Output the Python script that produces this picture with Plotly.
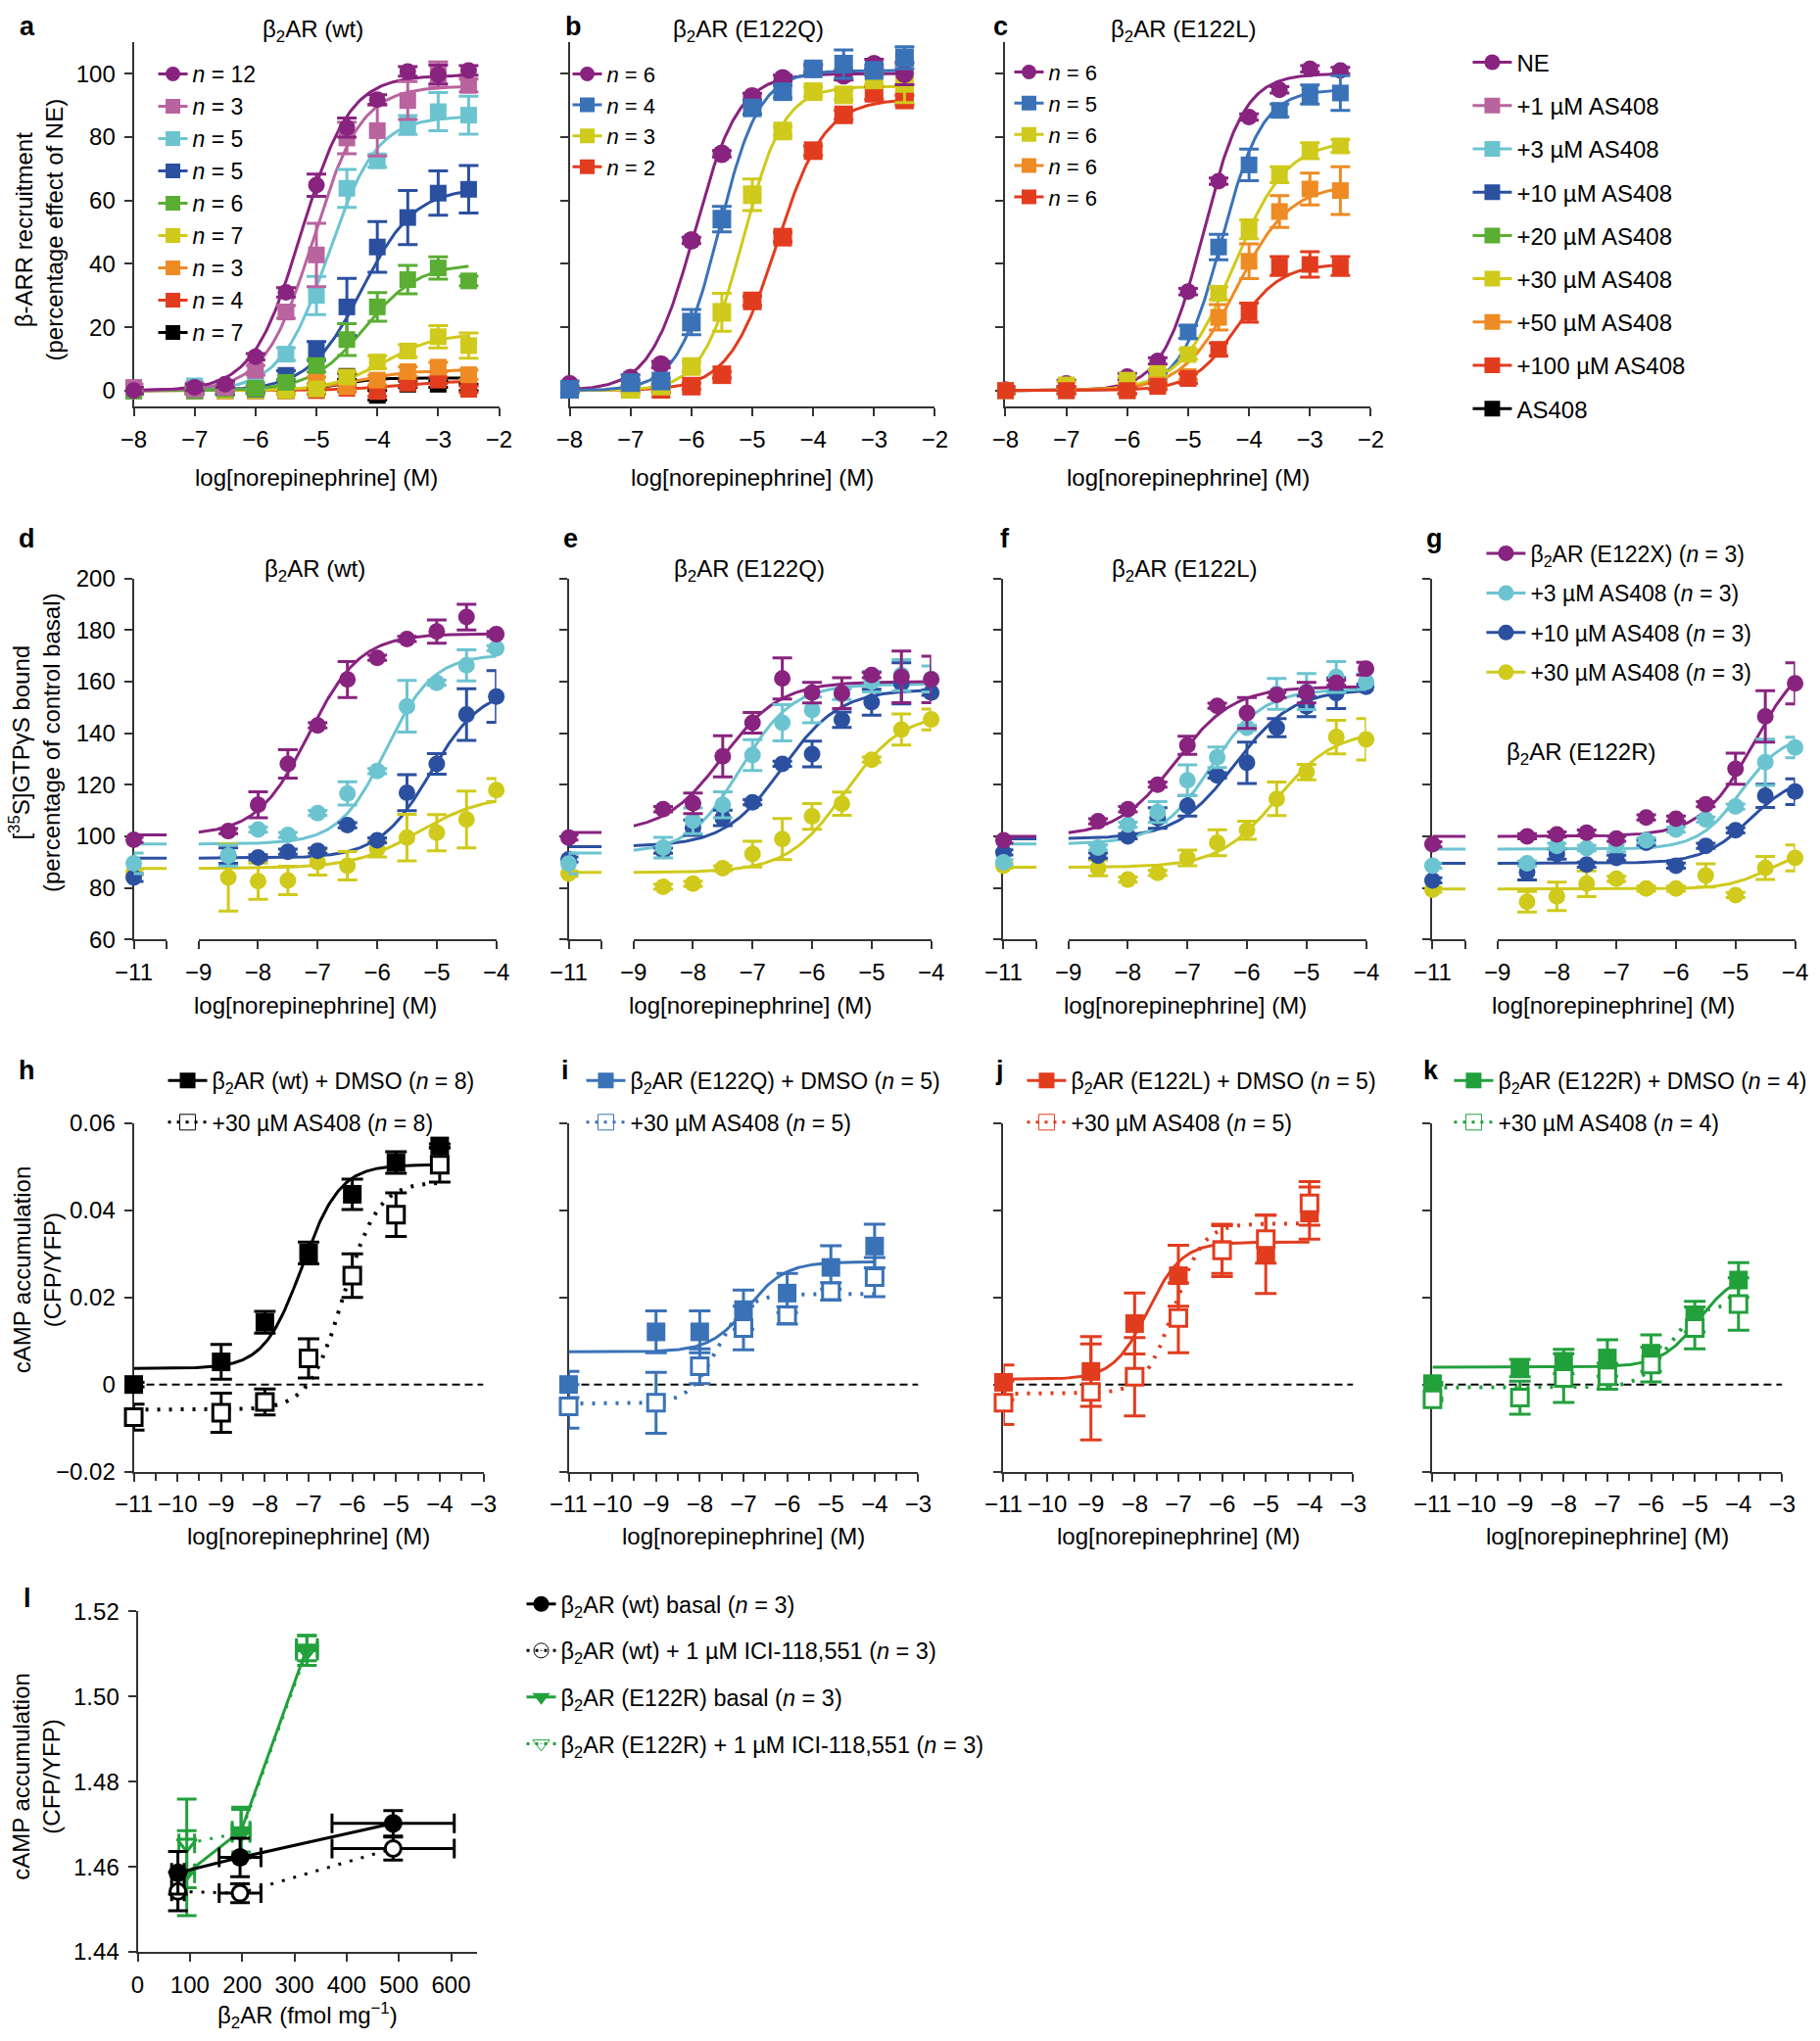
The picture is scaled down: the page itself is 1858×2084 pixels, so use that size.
import numpy as np
import plotly.graph_objects as go

# %% Canvas
W, H = 1858, 2084
FONT = "Liberation Sans, Arial, Helvetica, sans-serif"
AX = "#333333"

PURPLE = "#88237f"
PINK = "#b9639f"
CYAN = "#6cc4d0"
NAVY = "#2b50a0"
BLUE = "#3a72b8"
GREEN = "#5aae33"
YELLOW = "#cfca1b"
ORANGE = "#ee8b24"
RED = "#e23c1f"
BLACK = "#000000"
KGREEN = "#22a03c"

# %% Data a-c (beta-arrestin recruitment, % of NE)
x_ab = [-8, -7, -6.5, -6, -5.5, -5, -4.5, -4, -3.5, -3, -2.5]
x_c = [-8, -7, -6, -5.5, -5, -4.5, -4, -3.5, -3, -2.5]

a_ne = [0, 1, 2, 10.7, 31, 64.8, 83, 91.8, 100.7, 99.7, 101]
a_ne_err = [1, 1, 1, 1, 1.5, 3.5, 3, 1.5, 1.5, 3, 1.5]
a_1 = [1, 0.5, 1, 6.4, 24.8, 42.8, 79.7, 82, 91.5, 99.7, 96.3]
a_1_err = [1, 1, 1, 1.5, 2, 10, 5, 8, 6, 4, 2]
a_3 = [0, 1.5, 1, 1.5, 11.5, 30, 63.8, 72.5, 83.8, 88, 86.9]
a_3_err = [1, 1, 1, 1, 2, 6, 6, 2, 3, 6, 6]
a_10 = [0, 0, 0.7, 0.5, 4.8, 12.5, 26.4, 45.3, 54.6, 62.3, 63.5]
a_10_err = [1, 1, 2, 1, 1.5, 3, 9, 8, 8.5, 7, 7.5]
a_20 = [0, 0, 0.5, 0.7, 2.6, 7.9, 16.1, 26.4, 35, 38.7, 34.6]
a_20_err = [1, 1, 1, 1, 1, 2, 5, 4.5, 4.5, 3.5, 1.5]
a_30 = [0, 0, 0, 0, 0, 0.5, 4.3, 9, 12.5, 17, 14.2]
a_30_err = [1, 1, 1, 1, 1, 1, 1.5, 2, 2, 3.5, 4]
a_50 = [0, 0, 0, 0, 0, 3.3, 1.2, 3.3, 6, 7.4, 5]
a_50_err = [1, 1, 1, 1, 1, 1, 1, 1.5, 1.5, 1.5, 1.5]
a_100 = [0, 0, 0, 0, 0, 0, 0.7, -0.3, 2.3, 3.3, 0.4]
a_100_err = [1, 1, 1, 1, 1, 1, 1, 1.5, 1, 1, 1]
a_as = [0, 0, 0, 0, 0, 0.5, 4.5, -1.5, 2, 2, 1]
a_as_err = [1, 1, 1, 1, 1, 1, 1, 1.5, 1, 1, 1]

b_ne = [2, 4, 8.2, 47.4, 74.7, 92.8, 98.5, 101.5, 99.5, 103, 100]
b_ne_err = [1, 1, 1, 1, 1, 1, 1, 1, 1.5, 1.5, 3.5]
b_q = [0.4, 2.5, 3, 21.6, 54.1, 89.2, 94.3, 101.5, 103, 101, 105]
b_q_err = [1, 1, 1, 4, 4, 2, 2, 1.5, 4.5, 1.5, 3.5]
b_30 = [0.4, 0.4, 1.4, 7.6, 24.7, 61.8, 81.9, 94.3, 93.3, 98, 96.9]
b_30_err = [1, 1, 1, 1.5, 6, 5, 1.5, 1.5, 1.5, 1.5, 6]
b_100 = [0.4, 0.4, 0.4, 1.4, 5, 28.3, 48.4, 75.7, 87, 93.8, 91.7]
b_100_err = [1, 1, 1, 1, 1, 1.5, 1.5, 1.5, 1.5, 2, 1.5]

c_ne = [0.3, 2.3, 4.4, 9.4, 31.2, 66.1, 86.3, 94.9, 101.5, 101]
c_ne_err = [1, 1, 1, 1, 1, 1, 1, 1, 1, 1]
c_10 = [0, 0, 0, 4.4, 18.5, 45.3, 71.2, 88.4, 93.4, 93.9]
c_10_err = [1, 1, 1, 1, 2, 4, 5, 2, 3, 5.5]
c_30 = [0, 1.8, 3.3, 5.4, 11.4, 30.7, 50.9, 68.1, 75.7, 77.2]
c_30_err = [1, 1, 1, 1, 1.5, 2, 3, 2.5, 2.5, 2]
c_50 = [0, 0, 0, 1.8, 4.4, 23.1, 40.8, 56.5, 63.6, 63.1]
c_50_err = [1, 1, 1, 1, 1, 4, 5.5, 5, 5, 7.5]
c_100 = [0, 0, 0, 1.3, 3.8, 13, 24.6, 39.3, 39.8, 39.3]
c_100_err = [1, 1, 1, 1, 1.5, 2, 3, 3, 4, 3]

# fitted curves: [bottom, top, logEC50, hill]
fit_a = {"ne": [0, 99.5, -5.25, 1.1], "1": [0, 96, -5.05, 1.1], "3": [0, 86.5, -4.8, 1.1],
         "10": [0, 64, -4.25, 1.0], "20": [0, 40, -4.2, 1.0], "30": [0, 18, -3.9, 1.0],
         "50": [0, 6.5, -4.3, 1.0], "100": [0, 3, -3.8, 1.0], "as": [0, 4, -4.6, 1.5]}
fit_b = {"ne": [0, 100, -5.95, 1.2], "q": [0, 101, -5.55, 1.3],
         "30": [0, 96, -5.15, 1.3], "100": [0, 92, -4.6, 1.1]}
fit_c = {"ne": [0, 100, -4.75, 1.3], "10": [0, 95, -4.45, 1.3], "30": [0, 79, -4.25, 1.0],
         "50": [0, 65, -4.2, 1.0], "100": [0, 40, -4.2, 1.2]}

# %% Data d-g ([35S]GTPgS binding)
x_g = [-8.5, -8, -7.5, -7, -6.5, -6, -5.5, -5, -4.5, -4]
# order of series in each panel: NE, +3, +10, +30 uM AS408
d_vals = [[102, 112.2, 128.1, 143, 160.8, 169.2, 176.5, 179.4, 185, 178.4],
          [92.5, 102.6, 100.5, 109, 116.6, 125.3, 150.4, 159.5, 166.3, 172.9],
          [92.5, 91.8, 94, 94.4, 104.3, 98.4, 116.9, 128.1, 147.2, 154.2],
          [84, 82.6, 82.9, 90, 88.6, 95, 99.5, 101.4, 106.5, 117.9]]
d_errs = [[1, 5, 5.5, 1, 7, 1, 1, 4.5, 5, 1],
          [4, 1, 1, 1, 4.5, 1, 10, 1, 6, 1],
          [3, 1, 1, 1, 1, 1, 7, 4, 10, 10],
          [13, 7, 5.5, 5, 5.5, 3, 9, 7, 11, 4.5]]
d_basal = [98.6, 89.5, 84, 86]
d_basal_err = [1, 4, 1.5, 1]
d_fit = [[100.5, 178.5, -7.15, 1.0], [97, 170.5, -5.85, 1.1],
         [91.5, 158, -5.1, 1.0], [87.5, 116, -5.3, 0.8]]

e_vals = [[110.5, 112.8, 131, 144, 161.2, 155.7, 155.5, 162.5, 161.8, 160.8],
          [95.6, 106, 112.2, 131.5, 144, 149, 155, 160, 162.5, 161],
          [94.4, 103.3, 107.1, 113.2, 128.1, 131.9, 145.2, 152, 159.3, 155.7],
          [80.4, 81.6, 87.6, 93.1, 98.9, 107.7, 112.6, 129.7, 141.4, 145.3]]
e_errs = [[1, 4, 8, 4, 8, 4, 6, 1, 10, 9],
          [4, 5, 5, 6, 7, 5, 2, 4, 6, 5],
          [1, 3, 3, 1, 1, 5, 3, 5, 8, 1],
          [1, 1, 1, 5, 8, 5, 4.5, 1, 6, 4]]
e_basal = [99.5, 89.4, 91, 85.5]
e_basal_err = [1, 4, 1, 1]
e_fit = [[101.5, 160, -7.5, 0.9], [93.5, 159, -7.2, 1.0],
         [96, 157, -6.5, 0.9], [86, 148, -5.45, 0.9]]

f_vals = [[105.8, 110.5, 120, 135.3, 150.6, 147.8, 154.8, 155.7, 159.5, 165],
          [95.6, 104.5, 109.4, 121.7, 130.6, 142.1, 155.2, 156.1, 161.8, 159.9],
          [92.5, 100, 107.1, 111.8, 123.6, 128.5, 142.1, 150.4, 155.5, 158],
          [87.7, 83.2, 85.8, 91.6, 97.5, 102.3, 114.5, 124.9, 138.5, 137.6]]
f_errs = [[1, 1, 1, 3.5, 1, 6, 1, 4, 1, 2.5],
          [1, 1, 4, 6, 4, 1, 6, 7, 6, 3],
          [1, 1, 4, 4, 1, 8, 3.5, 4, 6, 1],
          [3, 1, 1, 3, 5, 3.5, 6.5, 3, 6.5, 8]]
f_basal = [98.4, 89.9, 93.7, 88.6]
f_basal_err = [1, 1, 1, 1]
f_fit = [[100, 158, -7.2, 0.9], [97, 157, -6.6, 1.0],
         [99, 157, -6.2, 0.9], [88, 141, -5.5, 0.9]]

g_vals = [[100, 100.7, 101.4, 99.1, 107.3, 106.8, 112.4, 126.2, 146.5, 159.3],
          [89.5, 96.3, 95.4, 97, 98.4, 102.6, 106.5, 111.5, 128.7, 134.4],
          [86.1, 93.1, 89, 91.6, 97.5, 88.6, 96.3, 102.3, 115.7, 117.3],
          [74.6, 76.7, 81.6, 83.5, 79.7, 79.7, 84.8, 77.2, 87.7, 91.6]]
g_errs = [[1, 1, 1, 1, 1, 1, 1, 6, 10, 8],
          [1, 1, 1, 3, 1, 1, 1, 1, 9, 4],
          [3, 2, 1, 1, 1, 1, 1, 1, 4.5, 5],
          [4, 5.5, 5, 1, 1, 1, 4.5, 1, 4.5, 5]]
g_basal = [96.9, 88.6, 82.9, 79.3]
g_basal_err = [1, 1, 1, 1]
g_fit = [[100, 172, -4.7, 1.0], [95, 140, -4.9, 1.2],
         [89.5, 124, -4.75, 1.1], [79.5, 96, -4.4, 1.2]]

# %% Data h-k (cAMP, CFP/YFP)
x_h = [-11, -9, -8, -7, -6, -5, -4]
h_dmso = [0, 0.0052, 0.0143, 0.0302, 0.0437, 0.051, 0.0548]
h_dmso_err = [0.0005, 0.004, 0.0025, 0.0025, 0.0035, 0.0025, 0.0005]
h_as = [-0.0075, -0.0065, -0.004, 0.006, 0.025, 0.039, 0.0505]
h_as_err = [0.003, 0.0045, 0.003, 0.0045, 0.005, 0.005, 0.004]
i_dmso = [0, 0.0121, 0.0121, 0.0172, 0.021, 0.0269, 0.0318]
i_dmso_err = [0.003, 0.0048, 0.0048, 0.0045, 0.0045, 0.005, 0.005]
i_as = [-0.005, -0.0042, 0.0042, 0.013, 0.0159, 0.0214, 0.0247]
i_as_err = [0.005, 0.007, 0.004, 0.005, 0.002, 0.002, 0.0045]
j_dmso = [0.0005, 0.003, 0.014, 0.025, 0.031, 0.0299, 0.0394]
j_dmso_err = [0.004, 0.008, 0.007, 0.007, 0.0055, 0.009, 0.006]
j_as = [-0.0042, -0.0017, 0.0018, 0.0153, 0.0308, 0.0334, 0.0416]
j_as_err = [0.005, 0.011, 0.009, 0.008, 0.006, 0.0055, 0.005]
k_dmso = [0.0002, 0.0038, 0.0053, 0.0061, 0.0072, 0.0156, 0.024]
k_dmso_err = [0.0003, 0.002, 0.0028, 0.0042, 0.0042, 0.0035, 0.004]
k_as = [-0.0034, -0.003, 0.0015, 0.0019, 0.0046, 0.013, 0.0185]
k_as_err = [0.0003, 0.0038, 0.0056, 0.003, 0.004, 0.0048, 0.006]
fit_h = [[0.0037, 0.0505, -7.15, 1.0], [-0.0058, 0.0465, -6.2, 1.1]]
fit_i = [[0.0075, 0.0282, -6.9, 1.0], [-0.0044, 0.0208, -7.6, 1.3]]
fit_j = [[0.0012, 0.0327, -7.7, 1.1], [-0.0021, 0.037, -7.1, 1.3]]
fit_k = [[0.004, 0.026, -4.9, 1.0], [-0.0007, 0.0185, -5.6, 1.3]]

# %% Data l (basal cAMP vs receptor expression)
l_wt_x = [77, 196, 489]
l_wt_xerr = [12, 40, 117]
l_wt_basal = [1.4586, 1.4622, 1.4702]
l_wt_basal_err = [0.005, 0.0045, 0.003]
l_wt_ici = [1.4542, 1.4538, 1.4643]
l_wt_ici_err = [0.0045, 0.0022, 0.0027]
l_r_x = [94, 198, 324]
l_r_xerr = [15, 17, 20]
l_r_basal = [1.4585, 1.4685, 1.5114]
l_r_basal_err = [0.01, 0.005, 0.003]
l_r_ici = [1.4655, 1.468, 1.5108]
l_r_ici_err = [0.0104, 0.006, 0.0035]


# %% Helpers
def hill(x, p):
    bottom, top, logec50, h = p
    return bottom + (top - bottom) / (1 + 10 ** ((logec50 - x) * h))


# layout positions below are given in reference pixels; spread them slightly to fill the page
def SX(x):
    return 1100 + (x - 1100) * 1.018


def SY(y):
    return 991 + (y - 991) * 1.012


def xr(i):
    return "x" if i == 1 else f"x{i}"


def yr(i):
    return "y" if i == 1 else f"y{i}"


fig = go.Figure()
layout_axes = {}
TICK = 24


def xaxis(i, left, right, rng, anchor, tickvals=None, ticktext=None, labels=True, dtick=None, minor=False, fmt=None):
    d = dict(domain=[SX(left) / W, SX(right) / W], range=rng, anchor=yr(anchor), showline=True, linecolor=AX,
             linewidth=2, ticks="outside", ticklen=8, tickwidth=2, tickcolor=AX, showgrid=False,
             zeroline=False, showticklabels=labels, layer="below traces", fixedrange=True,
             tickfont=dict(family=FONT, size=TICK, color="black"), ticklabelstandoff=3)
    if tickvals is not None:
        d.update(tickmode="array", tickvals=tickvals)
        if ticktext is not None:
            d["ticktext"] = ticktext
    else:
        d.update(tickmode="linear", tick0=rng[0], dtick=dtick)
    if minor:
        d["minor"] = dict(dtick=dtick / 2, ticks="outside", ticklen=7, tickwidth=2, tickcolor=AX)
    if fmt:
        d["tickformat"] = fmt
    layout_axes["xaxis" if i == 1 else f"xaxis{i}"] = d


def yaxis(i, top, bottom, rng, anchor, tick0, dtick, labels=True, fmt=None):
    d = dict(domain=[1 - SY(bottom) / H, 1 - SY(top) / H], range=rng, anchor=xr(anchor), showline=True,
             linecolor=AX, linewidth=2, ticks="outside", ticklen=8, tickwidth=2, tickcolor=AX,
             showgrid=False, zeroline=False, showticklabels=labels, layer="below traces",
             fixedrange=True, tickmode="linear", tick0=tick0, dtick=dtick,
             tickfont=dict(family=FONT, size=TICK, color="black"), ticklabelstandoff=4)
    if fmt:
        d["tickformat"] = fmt
    layout_axes["yaxis" if i == 1 else f"yaxis{i}"] = d


def points(xa, ya, x, y, err, color, symbol, size, hollow=False, cap=10, thick=3, xerr=None, mode="markers",
           dash="solid"):
    tr = dict(x=x, y=y, xaxis=xr(xa), yaxis=yr(ya), mode=mode, showlegend=False, cliponaxis=False,
              hoverinfo="skip",
              marker=dict(symbol=symbol, size=size, color="white" if hollow else color,
                          line=dict(color=color, width=3 if hollow else 0)),
              line=dict(color=color, width=3, dash=dash),
              error_y=dict(type="data", array=err, color=color, thickness=thick, width=cap))
    if xerr is not None:
        tr["error_x"] = dict(type="data", array=xerr, color=color, thickness=thick, width=cap)
    fig.add_trace(go.Scatter(**tr))


def curve(xa, ya, lo, hi, p, color, dash="solid", width=3):
    xs = np.linspace(lo, hi, 240)
    fig.add_trace(go.Scatter(x=xs, y=hill(xs, p), xaxis=xr(xa), yaxis=yr(ya), mode="lines",
                             showlegend=False, hoverinfo="skip", cliponaxis=False,
                             line=dict(color=color, width=width, dash=dash)))


def key(legend, name, color, symbol, size, dash="solid", hollow=False):
    fig.add_trace(go.Scatter(x=[None], y=[None], mode="lines+markers", name=name, legend=legend,
                             legendgroup=f"{legend}-{name}",
                             marker=dict(symbol=symbol, size=size, color="white" if hollow else color,
                                         line=dict(color=color, width=3 if hollow else 0)),
                             line=dict(color=color, width=3, dash=dash)))


legends = {}


def legend_box(name, left, first_center, spacing, size, itemwidth=30):
    item_h = size * 1.3 + 3
    spacing = spacing * 1.012
    legends[name] = dict(x=SX(left) / W, y=1 - (SY(first_center) - 5 - item_h / 2) / H, xanchor="left",
                         yanchor="top", bgcolor="rgba(0,0,0,0)", borderwidth=0,
                         font=dict(family=FONT, size=size, color="black"), traceorder="grouped",
                         tracegroupgap=max(spacing - item_h, 0), itemwidth=itemwidth,
                         itemclick=False, itemdoubleclick=False)


annotations = []


def ann(text, x, y, size=24, bold=False, angle=0, xanchor="center", ymax=2068):
    px, py = min(max(SX(x), 9), 1846), min(max(SY(y), 13), ymax)
    annotations.append(dict(text=f"<b>{text}</b>" if bold else text, x=px / W, y=1 - py / H,
                            xref="paper", yref="paper", showarrow=False, textangle=angle,
                            xanchor=xanchor, yanchor="middle",
                            font=dict(family=FONT, size=size, color="black")))


B2 = "β<sub>2</sub>AR"
XT = "log[norepinephrine] (M)"

# %% Row 1: panels a-c
R1_TOP, R1_BOT = 40.6, 413.2
r1_left = [137, 582, 1027]
R1_W = 373
for k, left in enumerate(r1_left, start=1):
    xaxis(k, left, left + R1_W, [-8, -2], k, dtick=1)
    yaxis(k, R1_TOP, R1_BOT, [-5, 110], k, 0, 20, labels=(k == 1))

CURVE_LO, CURVE_HI = -8, -2.5
panel_a = [(a_as, a_as_err, fit_a["as"], BLACK, "square"),
           (a_100, a_100_err, fit_a["100"], RED, "square"),
           (a_50, a_50_err, fit_a["50"], ORANGE, "square"),
           (a_30, a_30_err, fit_a["30"], YELLOW, "square"),
           (a_3, a_3_err, fit_a["3"], CYAN, "square"),
           (a_10, a_10_err, fit_a["10"], NAVY, "square"),
           (a_20, a_20_err, fit_a["20"], GREEN, "square"),
           (a_1, a_1_err, fit_a["1"], PINK, "square"),
           (a_ne, a_ne_err, fit_a["ne"], PURPLE, "circle")]
for vals, err, p, col, sym in panel_a:
    curve(1, 1, CURVE_LO, CURVE_HI, p, col)
for vals, err, p, col, sym in panel_a:
    points(1, 1, x_ab, vals, err, col, sym, 17)

panel_b = [(b_100, b_100_err, fit_b["100"], RED, "square"),
           (b_30, b_30_err, fit_b["30"], YELLOW, "square"),
           (b_ne, b_ne_err, fit_b["ne"], PURPLE, "circle"),
           (b_q, b_q_err, fit_b["q"], BLUE, "square")]
for vals, err, p, col, sym in panel_b:
    curve(2, 2, CURVE_LO, CURVE_HI, p, col)
for vals, err, p, col, sym in panel_b:
    points(2, 2, x_ab, vals, err, col, sym, 19)

panel_c = [(c_ne, c_ne_err, fit_c["ne"], PURPLE, "circle"),
           (c_10, c_10_err, fit_c["10"], BLUE, "square"),
           (c_30, c_30_err, fit_c["30"], YELLOW, "square"),
           (c_50, c_50_err, fit_c["50"], ORANGE, "square"),
           (c_100, c_100_err, fit_c["100"], RED, "square")]
for vals, err, p, col, sym in panel_c:
    curve(3, 3, CURVE_LO, CURVE_HI, p, col)
for vals, err, p, col, sym in panel_c:
    points(3, 3, x_c, vals, err, col, sym, 17)

# legends a, b, c and shared key
legend_box("legend", 157, 73, 32.6, 23)
for name, col, sym in [("<i>n</i> = 12", PURPLE, "circle"), ("<i>n</i> = 3", PINK, "square"),
                       ("<i>n</i> = 5", CYAN, "square"), ("<i>n</i> = 5 ", NAVY, "square"),
                       ("<i>n</i> = 6", GREEN, "square"), ("<i>n</i> = 7", YELLOW, "square"),
                       ("<i>n</i> = 3 ", ORANGE, "square"), ("<i>n</i> = 4", RED, "square"),
                       ("<i>n</i> = 7 ", BLACK, "square")]:
    key("legend", name, col, sym, 15)
legend_box("legend2", 580, 73, 31, 22)
for name, col, sym in [("<i>n</i> = 6", PURPLE, "circle"), ("<i>n</i> = 4", BLUE, "square"),
                       ("<i>n</i> = 3", YELLOW, "square"), ("<i>n</i> = 2", RED, "square")]:
    key("legend2", name, col, sym, 15)
legend_box("legend3", 1031, 71, 31.5, 22)
for name, col, sym in [("<i>n</i> = 6", PURPLE, "circle"), ("<i>n</i> = 5", BLUE, "square"),
                       ("<i>n</i> = 6 ", YELLOW, "square"), ("<i>n</i> = 6  ", ORANGE, "square"),
                       ("<i>n</i> = 6   ", RED, "square")]:
    key("legend3", name, col, sym, 15)
legend_box("legend4", 1499, 61, 43.7, 24, itemwidth=40)
for name, col, sym in [("NE", PURPLE, "circle"), ("+1 µM AS408", PINK, "square"),
                       ("+3 µM AS408", CYAN, "square"), ("+10 µM AS408", NAVY, "square"),
                       ("+20 µM AS408", GREEN, "square"), ("+30 µM AS408", YELLOW, "square"),
                       ("+50 µM AS408", ORANGE, "square"), ("+100 µM AS408", RED, "square"),
                       ("AS408", BLACK, "square")]:
    key("legend4", name, col, sym, 17)

ann("a", 16, 20, 27, bold=True)
ann("b", 586, 20, 27, bold=True)
ann("c", 1022, 20, 27, bold=True)
for left, t in zip(r1_left, [f"{B2} (wt)", f"{B2} (E122Q)", f"{B2} (E122L)"]):
    ann(t, left + R1_W / 2 - 4, 29)
    ann(XT, left + R1_W / 2, 486)
ann("β-ARR recruitment<br>(percentage effect of NE)", 40, 233, angle=-90)

# %% Row 2: panels d-g (broken x axis)
R2_TOP, R2_BOT = 589, 958
DEC = 60.8
SEG_W = 0.555 * DEC
GAP = 0.533 * DEC
SEG_R = -11 + 0.555
r2_left = [137, 581, 1025, 1463]
r2_sets = [(d_vals, d_errs, d_basal, d_basal_err, d_fit),
           (e_vals, e_errs, e_basal, e_basal_err, e_fit),
           (f_vals, f_errs, f_basal, f_basal_err, f_fit),
           (g_vals, g_errs, g_basal, g_basal_err, g_fit)]
r2_cols = [PURPLE, CYAN, NAVY, YELLOW]
draw_order = [3, 2, 1, 0]
for k, (left, (vals, errs, basal, berr, fits)) in enumerate(zip(r2_left, r2_sets)):
    xs_i, xm_i, y_i = 4 + 2 * k, 5 + 2 * k, 4 + k
    xaxis(xs_i, left, left + SEG_W, [-11, SEG_R], y_i, tickvals=[-11, SEG_R], ticktext=["−11", ""])
    xaxis(xm_i, left + SEG_W + GAP, left + SEG_W + GAP + 5 * DEC, [-9, -4], y_i, dtick=1)
    yaxis(y_i, R2_TOP, R2_BOT, [60, 200], xs_i, 60, 20, labels=(k == 0))
    for s in draw_order:
        p = fits[s]
        fig.add_trace(go.Scatter(x=[-11, SEG_R], y=[p[0], p[0]], xaxis=xr(xs_i), yaxis=yr(y_i),
                                 mode="lines", showlegend=False, hoverinfo="skip", cliponaxis=False,
                                 line=dict(color=r2_cols[s], width=3)))
        curve(xm_i, y_i, -9, -4, p, r2_cols[s])
    for s in draw_order:
        points(xs_i, y_i, [-11], [basal[s]], [berr[s]], r2_cols[s], "circle", 17, cap=10)
        points(xm_i, y_i, x_g, vals[s], errs[s], r2_cols[s], "circle", 17, cap=10)
    cx = left + (SEG_W + GAP + 5 * DEC) / 2
    ann(XT, cx, 1025)

legend_box("legend5", 1513, 563, 40, 23, itemwidth=40)
for name, col in [(f"{B2} (E122X) (<i>n</i> = 3)", PURPLE), ("+3 µM AS408 (<i>n</i> = 3)", CYAN),
                  ("+10 µM AS408 (<i>n</i> = 3)", NAVY), ("+30 µM AS408 (<i>n</i> = 3)", YELLOW)]:
    key("legend5", name, col, "circle", 17)

for left, letter in zip(r2_left, "defg"):
    ann(letter, left - 121 if letter == "d" else left + 2, 548, 27, bold=True)
for left, t in zip(r2_left[:3], [f"{B2} (wt)", f"{B2} (E122Q)", f"{B2} (E122L)"]):
    ann(t, left + 185, 581)
ann(f"{B2} (E122R)", 1615, 768)
ann("[<sup>35</sup>S]GTPγS bound<br>(percentage of control basal)", 36, 757, angle=-90)

# %% Row 3: panels h-k
R3_TOP, R3_BOT = 1146, 1502
R3_W = 357
r3_left = [137, 581, 1025, 1463]
r3_sets = [(h_dmso, h_dmso_err, h_as, h_as_err, fit_h, BLACK),
           (i_dmso, i_dmso_err, i_as, i_as_err, fit_i, BLUE),
           (j_dmso, j_dmso_err, j_as, j_as_err, fit_j, RED),
           (k_dmso, k_dmso_err, k_as, k_as_err, fit_k, KGREEN)]
shapes = []
for k, (left, (dm, dme, asv, ase, fits, col)) in enumerate(zip(r3_left, r3_sets)):
    xa, ya = 12 + k, 8 + k
    xaxis(xa, left, left + R3_W, [-11, -3], ya, dtick=1, minor=True)
    yaxis(ya, R3_TOP, R3_BOT, [-0.02, 0.06], xa, -0.02, 0.02, labels=(k == 0))
    shapes.append(dict(type="line", xref=xr(xa), yref=yr(ya), x0=-11, x1=-3, y0=0, y1=0, layer="below",
                       line=dict(color="black", width=2, dash="8px,5px")))
    curve(xa, ya, -11, -4, fits[0], col)
    curve(xa, ya, -11, -4, fits[1], col, dash="3px,9px", width=4)
    points(xa, ya, x_h, dm, dme, col, "square", 19, cap=11)
    points(xa, ya, x_h, asv, ase, col, "square", 17, hollow=True, cap=11)
    ann(XT, left + R3_W / 2, 1568)

r3_keys = [("legend6", 167, B2 + " (wt) + DMSO (<i>n</i> = 8)", "+30 µM AS408 (<i>n</i> = 8)", BLACK),
           ("legend7", 594, B2 + " (E122Q) + DMSO (<i>n</i> = 5)", "+30 µM AS408 (<i>n</i> = 5)", BLUE),
           ("legend8", 1044, B2 + " (E122L) + DMSO (<i>n</i> = 5)", "+30 µM AS408 (<i>n</i> = 5)", RED),
           ("legend9", 1480, B2 + " (E122R) + DMSO (<i>n</i> = 4)", "+30 µM AS408 (<i>n</i> = 4)", KGREEN)]
for lg, left, n1, n2, col in r3_keys:
    legend_box(lg, left, 1102, 42, 23, itemwidth=40)
    key(lg, n1, col, "square", 19)
    key(lg, n2, col, "square-open-dot", 17, dash="3px,6px")

for x, letter in zip([16, 577, 1021, 1462], "hijk"):
    ann(letter, x, 1092, 27, bold=True)
ann("cAMP accumulation<br>(CFP/YFP)", 38, 1296, angle=-90)

# %% Row 4: panel l
xaxis(16, 141, 487.7, [0, 650], 12, tickvals=[0, 100, 200, 300, 400, 500, 600])
yaxis(12, 1645, 1993, [1.44, 1.52], 16, 1.44, 0.02, fmt=".2f")
points(16, 12, l_r_x, l_r_ici, l_r_ici_err, KGREEN, "triangle-down", 17, hollow=True, cap=10,
       xerr=l_r_xerr, mode="lines+markers", dash="3px,9px")
points(16, 12, l_r_x, l_r_basal, l_r_basal_err, KGREEN, "triangle-down", 18, cap=10,
       xerr=l_r_xerr, mode="lines+markers")
points(16, 12, l_wt_x, l_wt_ici, l_wt_ici_err, BLACK, "circle", 16, hollow=True, cap=10,
       xerr=l_wt_xerr, mode="lines+markers", dash="3px,9px")
points(16, 12, l_wt_x, l_wt_basal, l_wt_basal_err, BLACK, "circle", 19, cap=10,
       xerr=l_wt_xerr, mode="lines+markers")

legend_box("legend10", 533, 1637, 47, 23.5)
key("legend10", B2 + " (wt) basal (<i>n</i> = 3)", BLACK, "circle", 17)
key("legend10", B2 + " (wt) + 1 µM ICI-118,551 (<i>n</i> = 3)", BLACK, "circle-open-dot", 15, dash="3px,6px")
key("legend10", B2 + " (E122R) basal (<i>n</i> = 3)", KGREEN, "triangle-down", 17)
key("legend10", B2 + " (E122R) + 1 µM ICI-118,551 (<i>n</i> = 3)", KGREEN, "triangle-down-open-dot", 15,
    dash="3px,6px")

ann("l", 11, 1632, 27, bold=True)
ann("cAMP accumulation<br>(CFP/YFP)", 38, 1814, angle=-90)
ann(f"{B2} (fmol mg<sup>−1</sup>)", 314, 2062, ymax=2071)

# %% Layout
fig.update_layout(width=W, height=H, margin=dict(l=0, r=0, t=0, b=0), plot_bgcolor="white",
                  paper_bgcolor="white", showlegend=True, hovermode=False,
                  font=dict(family=FONT, size=24, color="black"),
                  annotations=annotations, shapes=shapes, **layout_axes, **legends)
# the page's default body margin would push the whole figure 8 px off
fig.write_html("out.html", config={"displayModeBar": False},
               post_script="document.body.style.margin='0px';")
